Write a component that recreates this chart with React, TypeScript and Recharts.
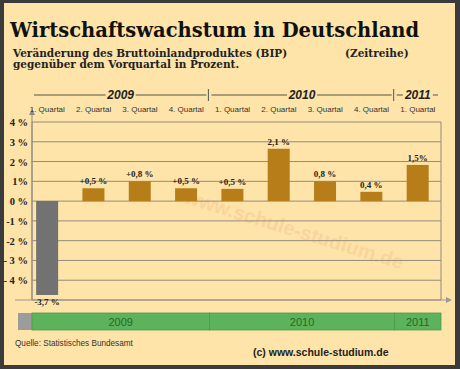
import React from "react";
import { BarChart, Bar, XAxis, YAxis, CartesianGrid, Cell, LabelList } from "recharts";

const quarterLabels = ["1. Quartal", "2. Quartal", "3. Quartal", "4. Quartal", "1. Quartal", "2. Quartal", "3. Quartal", "4. Quartal", "1. Quartal"];
// bar heights as drawn in the picture (in % on the axis)
const barHeights = [-4.75, 0.65, 1.0, 0.65, 0.62, 2.65, 1.0, 0.47, 1.83];
// value labels printed on the picture
const valueLabels = ["-3,7 %", "+0,5 %", "+0,8 %", "+0,5 %", "+0,5 %", "2,1 %", "0,8 %", "0,4 %", "1,5%"];
const years = ["2009", "2010", "2011"];
const yearQuarters = [4, 4, 1];
const yTicks = [-5, -4, -3, -2, -1, 0, 1, 2, 3, 4];
const yTickLabels = ["", "- 4 %", "- 3 %", "-2 %", "-1 %", "0 %", "1%", "2 %", "3 %", "4 %"];

const W = 460;
const H = 369;
const PL = 32;
const PR = 441;
const PT = 122;
const PB = 300;
const D0 = 0.17;
const D1 = 9;
const TOP_AXIS_H = 20;

const xs = (v: number) => PL + ((v - D0) / (D1 - D0)) * (PR - PL);

const data = barHeights.map((v, i) => ({ pos: i + 0.5, value: v, label: valueLabels[i] }));

const BG = "#FEE4A8";
const BAR = "#B67D18";
const NEG = "#727272";
const GRID = "#938C7C";

const ValueLabel = (props: any) => {
  const { x, y, width, height, index } = props;
  const top = Math.min(y, y + height);
  const bottom = Math.max(y, y + height);
  const neg = barHeights[index] < 0;
  return (
    <text
      x={x + width / 2}
      y={neg ? bottom + 10 : top - 4}
      textAnchor="middle"
      fontFamily="Liberation Serif"
      fontWeight="bold"
      fontSize={9}
      fill="#222"
    >
      {valueLabels[index]}
    </text>
  );
};

const YTick = (props: any) => {
  const { x, y, payload } = props;
  return (
    <text x={x - 4} y={y + 4} textAnchor="end" fontFamily="Liberation Serif" fontWeight="bold" fontSize={10.5} fill="#222">
      {yTickLabels[yTicks.indexOf(payload.value)]}
    </text>
  );
};

const QTick = (props: any) => {
  const { x, y, payload } = props;
  return (
    <text x={x} y={y} textAnchor="middle" fontFamily="Liberation Sans" fontSize={8} fill="#333">
      {quarterLabels[Math.floor(payload.value)]}
    </text>
  );
};

function Background() {
  let acc = 0;
  const segs = years.map((y, i) => {
    const s = acc;
    acc += yearQuarters[i];
    return { year: y, start: i === 0 ? D0 : s, end: acc };
  });
  return (
    <svg width={W} height={H} style={{ position: "absolute", left: 0, top: 0 }}>
      <rect x={0} y={0} width={W} height={H} fill="#3b3b3b" />
      <rect x={4} y={3} width={451} height={362} fill={BG} />
      <text x={292} y={236} textAnchor="middle" fontFamily="Liberation Sans" fontWeight="bold" fontSize={20}
        fill="#F5C48C" opacity={0.45} transform="rotate(17 292 236)">www.schule-studium.de</text>
      <text x={10} y={37} fontFamily="DejaVu Serif" fontWeight="bold" fontSize={19.5} fill="#111">Wirtschaftswachstum in Deutschland</text>
      <text x={13} y={57} fontFamily="DejaVu Serif" fontWeight="bold" fontSize={10.5} fill="#222">Veränderung des Bruttoinlandproduktes (BIP)</text>
      <text x={13} y={68} fontFamily="DejaVu Serif" fontWeight="bold" fontSize={10.5} fill="#222">gegenüber dem Vorquartal in Prozent.</text>
      <text x={345} y={57} fontFamily="DejaVu Serif" fontWeight="bold" fontSize={10.5} fill="#222">(Zeitreihe)</text>
      {segs.map((s, i) => {
        const a = xs(s.start);
        const b = xs(s.end);
        const c = (a + b) / 2;
        const half = 15;
        return (
          <g key={s.year}>
            <line x1={a + 2} x2={c - half} y1={95} y2={95} stroke="#555" strokeWidth={1} />
            <line x1={c + half} x2={b - 3} y1={95} y2={95} stroke="#555" strokeWidth={1} />
            {i < segs.length - 1 && <line x1={b - 1} x2={b - 1} y1={89} y2={101} stroke="#555" strokeWidth={1} />}
            <text x={c} y={99} textAnchor="middle" fontFamily="Liberation Sans" fontWeight="bold" fontStyle="italic" fontSize={12} fill="#222">{s.year}</text>
          </g>
        );
      })}
      {/* axis extensions and arrows */}
      <line x1={15} x2={446} y1={PB} y2={PB} stroke="#9a9a9a" strokeWidth={1} />
      <polygon points={`446,${PB - 3} 452,${PB} 446,${PB + 3}`} fill="#9a9a9a" />
      <line x1={PL} x2={PL} y1={PT} y2={113} stroke="#8a8a8a" strokeWidth={1} />
      <polygon points={`${PL - 3},${115} ${PL},${109} ${PL + 3},${115}`} fill="#8a8a8a" />
      {/* year bar */}
      <rect x={18} y={313} width={PL - 18} height={17} fill="#9c9c9c" />
      {segs.map((s) => {
        const a = xs(s.start);
        const b = xs(s.end);
        return (
          <g key={"g" + s.year}>
            <rect x={a} y={313} width={b - a} height={17} fill="#5DB35C" stroke="#4E9A4C" strokeWidth={0.8} />
            <text x={(a + b) / 2} y={326} textAnchor="middle" fontFamily="Liberation Sans" fontSize={11} fill="#236B22">{s.year}</text>
          </g>
        );
      })}
      <text x={15} y={346} fontFamily="Liberation Sans" fontSize={8.2} fill="#333">Quelle: Statistisches Bundesamt</text>
      <text x={253} y={356} fontFamily="Liberation Sans" fontWeight="bold" fontSize={10.5} fill="#222">(c) www.schule-studium.de</text>
    </svg>
  );
}

export default function App() {
  return (
    <div style={{ position: "absolute", left: 0, top: 0, width: W, height: H }}>
      <Background />
      <div style={{ position: "absolute", left: 0, top: 0 }}>
        <BarChart
          width={W}
          height={H}
          data={data}
          margin={{ top: PT - TOP_AXIS_H, right: W - PR, bottom: H - PB - 1, left: 0 }}
        >
          <CartesianGrid xAxisId="b" stroke={GRID} strokeWidth={1} />
          <XAxis
            xAxisId="b"
            dataKey="pos"
            type="number"
            domain={[D0, D1]}
            ticks={[1, 2, 3, 4, 5, 6, 7, 8, 9]}
            allowDataOverflow
            height={1}
            tick={false}
            tickLine={false}
            axisLine={false}
          />
          <XAxis
            xAxisId="t"
            dataKey="pos"
            type="number"
            orientation="top"
            domain={[D0, D1]}
            ticks={data.map((d) => d.pos)}
            allowDataOverflow
            height={TOP_AXIS_H}
            interval={0}
            tickSize={0}
            tickMargin={10}
            axisLine={false}
            tickLine={false}
            tick={<QTick />}
          />
          <YAxis
            domain={[-5, 4]}
            ticks={yTicks}
            interval={0}
            allowDataOverflow
            width={PL}
            tickSize={0}
            tickMargin={0}
            tickLine={false}
            axisLine={{ stroke: "#8a8a8a" }}
            tick={<YTick />}
          />
          <Bar xAxisId="b" dataKey="value" barSize={22} isAnimationActive={false}>
            {data.map((d, i) => (
              <Cell key={i} fill={d.value < 0 ? NEG : BAR} />
            ))}
            <LabelList dataKey="label" content={<ValueLabel />} />
          </Bar>
        </BarChart>
      </div>
    </div>
  );
}
